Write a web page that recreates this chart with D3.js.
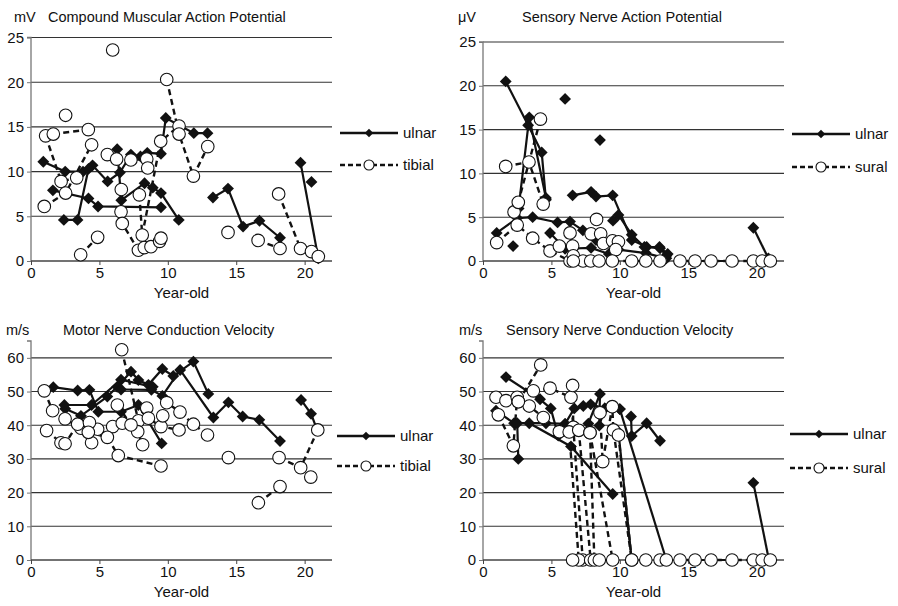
<!DOCTYPE html>
<html>
<head>
<meta charset="utf-8">
<script src="https://cdn.jsdelivr.net/npm/d3@7"></script>
<style>
  body { margin: 0; background: #fff; }
  svg { display: block; font-family: "Liberation Sans", Arial, sans-serif; }
</style>
</head>
<body>
<svg id="chart" width="898" height="606"></svg>
<script>
// ages on x, one inner array per patient (connected points)
const xTicks = [0, 5, 10, 15, 20];
const ampTicks = [0, 5, 10, 15, 20, 25];
const velTicks = [0, 10, 20, 30, 40, 50, 60];

// Compound Muscular Action Potential (mV)
const cmapUlnar = [
  [[0.9, 11.1], [2.5, 10.0], [3.8, 10.0], [4.5, 10.7], [5.6, 8.9], [6.5, 9.9], [7.3, 11.9], [8.0, 11.7], [8.5, 12.1], [9.5, 12.0], [9.85, 16.0], [11.9, 14.3], [12.9, 14.3]],
  [[1.6, 7.9], [4.2, 7.0], [4.9, 6.1], [9.5, 6.0]],
  [[2.4, 4.6], [3.4, 4.6], [4.2, 10.3]],
  [[6.3, 12.5], [6.6, 6.8], [8.3, 8.7], [8.9, 8.2], [9.5, 7.6], [10.8, 4.6]],
  [[13.3, 7.1], [14.4, 8.1], [15.5, 3.85], [16.7, 4.5], [18.2, 2.6]],
  [[19.7, 11.0], [21.0, 0.3]],
  [[20.5, 8.85]]
];
const cmapTibial = [
  [[1.07, 14.0], [2.2, 8.9], [3.34, 9.3]],
  [[1.63, 14.2], [4.19, 14.7]],
  [[0.97, 6.1], [2.53, 7.6], [4.43, 13.0]],
  [[3.63, 0.7], [4.87, 2.65]],
  [[5.58, 11.9], [6.26, 11.4], [7.3, 11.3], [8.46, 11.4], [8.53, 10.4]],
  [[6.6, 8.0], [6.58, 5.5], [6.67, 4.2], [7.85, 1.2], [8.28, 1.5], [8.77, 1.6], [9.4, 2.2], [9.5, 2.55]],
  [[7.92, 7.4], [8.13, 2.9], [9.48, 13.4], [10.82, 15.1]],
  [[9.92, 20.3], [10.82, 14.2], [11.87, 9.5], [12.92, 12.8]],
  [[2.53, 16.3]], [[5.97, 23.6]], [[14.4, 3.2]],
  [[16.6, 2.3], [18.2, 1.4]],
  [[18.1, 7.5], [19.7, 1.4], [20.5, 1.05], [21.0, 0.5]]
];

// Sensory Nerve Action Potential (uV)
const snapUlnar = [
  [[1.66, 20.5], [3.3, 15.5], [4.29, 12.4], [4.6, 7.0]],
  [[2.6, 6.0], [3.38, 16.4], [4.6, 7.2]],
  [[1.0, 3.2], [2.5, 4.9], [3.63, 5.0], [5.45, 4.4], [6.36, 4.5], [7.3, 3.5], [8.26, 2.4], [9.9, 1.3], [11.9, 0.9], [13.4, 0.3]],
  [[2.2, 1.7]],
  [[6.55, 7.5], [7.9, 7.9], [8.26, 7.35], [9.48, 7.5], [10.87, 2.4], [11.96, 1.6], [12.94, 1.45], [13.4, 0.6]],
  [[4.9, 3.2], [6.0, 1.4], [7.9, 1.5], [9.2, 0.8]],
  [[9.5, 4.6], [9.9, 5.25], [10.87, 3.0], [11.8, 1.6], [12.9, 1.6], [13.5, 0.8]],
  [[6.0, 18.5]], [[8.55, 13.8]],
  [[14.4, 0], [15.5, 0], [16.67, 0], [18.2, 0]],
  [[19.76, 3.8], [20.86, 0.3]]
];
const snapSural = [
  [[1.66, 10.8], [3.36, 11.3], [4.4, 6.5]],
  [[2.27, 5.6], [2.58, 6.7], [4.2, 16.2]],
  [[1.0, 2.1], [2.5, 4.1], [3.63, 2.6], [4.9, 1.15], [6.36, 0]],
  [[5.58, 1.7], [6.36, 3.2], [6.55, 1.7], [6.6, 0.6], [7.31, 0]],
  [[8.3, 4.75], [7.9, 3.1], [8.6, 3.1], [8.8, 2.0], [9.47, 2.3], [9.9, 2.2], [9.7, 1.3], [9.45, 0]],
  [[6.6, 0], [7.87, 0], [8.48, 0], [10.87, 0], [11.9, 0], [12.94, 0], [14.4, 0], [15.5, 0], [16.67, 0], [18.2, 0], [19.76, 0], [20.4, 0], [21.0, 0]]
];

// Motor Nerve Conduction Velocity (m/s)
const mncvUlnar = [
  [[1.63, 51.3], [3.41, 50.3], [4.27, 50.5], [4.92, 44.0], [6.58, 44.0], [7.85, 46.0], [9.55, 34.6]],
  [[2.5, 44.9], [3.65, 42.8], [5.58, 48.5], [6.3, 51.4], [7.31, 55.9], [7.85, 53.4], [8.58, 52.0], [9.6, 56.7], [10.4, 54.6], [11.87, 58.9], [12.96, 49.3]],
  [[2.44, 46.0], [4.43, 46.0], [6.58, 53.5], [8.9, 51.4]],
  [[6.58, 50.6], [8.8, 50.5], [9.6, 48.7], [10.9, 56.4], [13.33, 42.3], [14.43, 46.8], [15.47, 42.6], [16.69, 41.6], [18.2, 35.3]],
  [[19.74, 47.5], [20.47, 43.4], [20.9, 38.8]]
];
const mncvTibial = [
  [[0.97, 50.2], [1.58, 44.3], [2.49, 41.9], [3.65, 39.1], [4.87, 38.8], [5.97, 39.6], [6.67, 40.6]],
  [[1.14, 38.4], [2.19, 34.8], [2.49, 34.5], [3.41, 40.3], [4.27, 40.8], [4.43, 34.8]],
  [[4.19, 37.9], [5.58, 36.4], [6.38, 31.0], [9.5, 27.9]],
  [[6.63, 62.4], [7.85, 41.3], [7.8, 38.1], [8.16, 34.2]],
  [[6.31, 46.0], [7.31, 40.1], [8.46, 45.1], [8.58, 42.1], [9.5, 39.6], [10.82, 38.6]],
  [[9.63, 42.8], [9.92, 46.7], [10.89, 43.9], [11.87, 40.3], [12.9, 37.1]],
  [[14.43, 30.4]],
  [[16.62, 17.0], [18.2, 21.8]],
  [[18.13, 30.4], [19.71, 27.4], [20.96, 38.6]],
  [[20.45, 24.6]]
];

// Sensory Nerve Conduction Velocity (m/s)
const sncvUlnar = [
  [[1.68, 54.3], [4.17, 47.7], [4.95, 45.0], [5.5, 36.9], [6.0, 40.4]],
  [[0.95, 44.3], [2.27, 40.6], [3.38, 40.6], [6.43, 33.7], [9.48, 19.6]],
  [[2.58, 30.0], [2.5, 40.6], [4.6, 40.6], [6.0, 40.4], [6.67, 45.0], [7.33, 45.7], [7.87, 46.2], [8.9, 45.0], [10.0, 44.8]],
  [[7.7, 40.5], [8.55, 49.3], [8.5, 39.9], [8.9, 45.0]],
  [[10.82, 42.6], [10.87, 36.8], [11.96, 40.6], [12.94, 35.4]],
  [[10.0, 44.8], [13.4, 0]],
  [[9.9, 38.0], [10.87, 0]],
  [[14.4, 0], [15.5, 0], [16.67, 0], [18.2, 0]],
  [[19.76, 22.9], [20.9, 0]]
];
const sncvSural = [
  [[0.95, 48.3], [1.68, 47.3], [2.58, 47.0], [3.38, 45.7], [4.41, 42.3]],
  [[1.12, 43.1], [2.22, 33.9], [2.5, 48.3]],
  [[2.58, 47.0], [4.22, 57.9]],
  [[3.68, 50.2], [4.9, 51.0], [6.43, 48.3], [6.6, 39.4]],
  [[6.55, 51.8], [6.6, 39.4], [7.29, 0]],
  [[5.58, 38.1], [6.3, 38.0], [7.0, 0], [6.55, 0]],
  [[7.0, 38.5], [7.87, 0]],
  [[7.82, 37.8], [8.14, 0], [8.5, 0]],
  [[8.55, 43.7], [8.75, 29.2], [9.45, 45.5], [9.53, 38.6], [10.87, 0]],
  [[9.9, 37.1], [10.87, 0]],
  [[7.82, 37.8], [9.48, 0]],
  [[11.9, 0], [12.94, 0], [13.4, 0], [14.4, 0], [15.5, 0], [16.67, 0], [18.2, 0], [19.76, 0], [20.4, 0], [21.0, 0]]
];

const svg = d3.select('#chart');
const ink = '#111';

const panels = [
  { unit: 'mV', title: 'Compound Muscular Action Potential', left: 31, bottom: 261, top: 37.5,
    yMax: 25, yTicks: ampTicks, ulnar: cmapUlnar, other: cmapTibial, otherName: 'tibial',
    unitX: 14, titleX: 48, titleY: 22, legX: 340, legY: [133, 165] },
  { unit: '\u03bcV', title: 'Sensory Nerve Action Potential', left: 483, bottom: 261, top: 42,
    yMax: 25, yTicks: ampTicks, ulnar: snapUlnar, other: snapSural, otherName: 'sural',
    unitX: 458, titleX: 522, titleY: 22, legX: 792, legY: [134, 167] },
  { unit: 'm/s', title: 'Motor Nerve Conduction Velocity', left: 31, bottom: 560, top: 341,
    yMax: 65, yTicks: velTicks, ulnar: mncvUlnar, other: mncvTibial, otherName: 'tibial',
    unitX: 6, titleX: 63, titleY: 335, legX: 337, legY: [436, 466] },
  { unit: 'm/s', title: 'Sensory Nerve Conduction Velocity', left: 483, bottom: 560, top: 341,
    yMax: 65, yTicks: velTicks, ulnar: sncvUlnar, other: sncvSural, otherName: 'sural',
    unitX: 459, titleX: 506, titleY: 335, legX: 790, legY: [434, 468] }
];

// rotated square = diamond marker
const diamond = d3.symbol().type(d3.symbolSquare);

panels.forEach((p) => {
  const x = d3.scaleLinear().domain([0, 22]).range([p.left, p.left + 301]);
  const y = d3.scaleLinear().domain([0, p.yMax]).range([p.bottom, p.top]);
  const g = svg.append('g');

  // grid
  g.selectAll('line.grid')
    .data(p.yTicks.filter((t) => t > 0))
    .enter()
    .append('line')
    .attr('x1', x(0)).attr('x2', x(22))
    .attr('y1', (d) => y(d)).attr('y2', (d) => y(d))
    .attr('stroke', '#333').attr('stroke-width', 1.1);

  // y axis
  const ya = g.append('g')
    .attr('transform', `translate(${x(0)},0)`)
    .call(d3.axisLeft(y).tickValues(p.yTicks).tickSize(4).tickPadding(3));
  ya.select('.domain').attr('stroke', '#777').attr('stroke-width', 1.3).attr('d', `M-4,${y(p.yMax)}H0V${y(0)}`);
  ya.selectAll('.tick line').attr('stroke', '#777');
  ya.selectAll('text').attr('font-size', 15).attr('fill', ink).attr('font-family', '"Liberation Sans", Arial, sans-serif');

  // x axis
  const xa = g.append('g')
    .attr('transform', `translate(0,${y(0)})`)
    .call(d3.axisBottom(x).tickValues(xTicks).tickSize(4).tickPadding(2));
  xa.select('.domain').attr('stroke', '#444').attr('stroke-width', 1.3).attr('d', `M${x(0)},0H${x(22)}`);
  xa.selectAll('.tick line').attr('stroke', '#444');
  xa.selectAll('text').attr('font-size', 15).attr('fill', ink).attr('font-family', '"Liberation Sans", Arial, sans-serif');

  // labels
  g.append('text').attr('x', p.unitX).attr('y', p.titleY).attr('font-size', 14.5).attr('fill', ink).text(p.unit);
  g.append('text').attr('x', p.titleX).attr('y', p.titleY).attr('font-size', 14.5).attr('fill', ink).text(p.title);
  g.append('text').attr('x', x(11)).attr('y', p.bottom + 37).attr('text-anchor', 'middle')
    .attr('font-size', 15).attr('fill', ink).text('Year-old');

  const line = d3.line().x((d) => x(d[0])).y((d) => y(d[1]));

  // lines
  g.selectAll('path.other').data(p.other).enter().append('path')
    .attr('d', line).attr('fill', 'none').attr('stroke', ink)
    .attr('stroke-width', 2.4).attr('stroke-dasharray', '6,4');
  g.selectAll('path.ulnar').data(p.ulnar).enter().append('path')
    .attr('d', line).attr('fill', 'none').attr('stroke', ink).attr('stroke-width', 2.2);

  // markers
  g.selectAll('path.dm').data(p.ulnar.flat()).enter().append('path')
    .attr('d', diamond.size(70))
    .attr('transform', (d) => `translate(${x(d[0])},${y(d[1])}) rotate(45)`)
    .attr('fill', ink);
  g.selectAll('circle.ci').data(p.other.flat()).enter().append('circle')
    .attr('cx', (d) => x(d[0])).attr('cy', (d) => y(d[1])).attr('r', 6.3)
    .attr('fill', '#fff').attr('stroke', ink).attr('stroke-width', 1.1);

  // legend
  const lg = g.append('g');
  lg.append('line').attr('x1', p.legX).attr('x2', p.legX + 58).attr('y1', p.legY[0]).attr('y2', p.legY[0])
    .attr('stroke', ink).attr('stroke-width', 2.4);
  lg.append('path').attr('d', diamond.size(36)).attr('transform', `translate(${p.legX + 29},${p.legY[0]}) rotate(45)`).attr('fill', ink);
  lg.append('text').attr('x', p.legX + 63).attr('y', p.legY[0] + 5).attr('font-size', 15).attr('fill', ink).text('ulnar');
  lg.append('line').attr('x1', p.legX).attr('x2', p.legX + 58).attr('y1', p.legY[1]).attr('y2', p.legY[1])
    .attr('stroke', ink).attr('stroke-width', 2.4).attr('stroke-dasharray', '5,3');
  lg.append('circle').attr('cx', p.legX + 29).attr('cy', p.legY[1]).attr('r', 5)
    .attr('fill', '#fff').attr('stroke', ink).attr('stroke-width', 1.1);
  lg.append('text').attr('x', p.legX + 63).attr('y', p.legY[1] + 5).attr('font-size', 15).attr('fill', ink).text(p.otherName);
});
</script>
</body>
</html>
